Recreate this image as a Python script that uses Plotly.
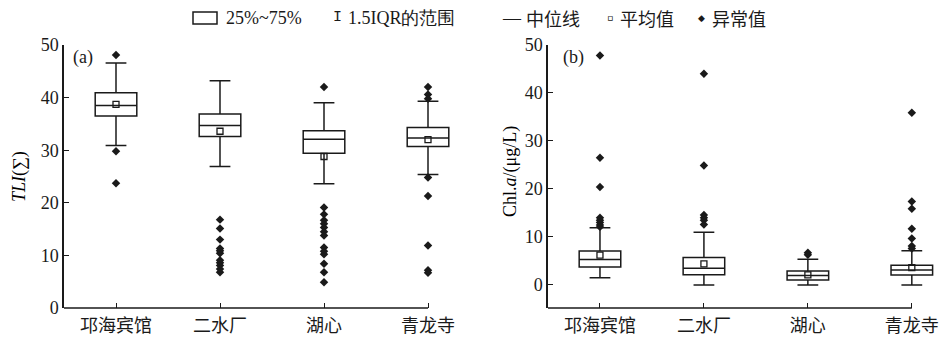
import plotly.graph_objects as go

cats = ["邛海宾馆", "二水厂", "湖心", "青龙寺"]
yticks = [0, 10, 20, 30, 40, 50]

# Panel (a): TLI(∑)
tli_q1 = [36.5, 32.6, 29.4, 30.7]
tli_med = [38.5, 34.7, 32.1, 32.3]
tli_q3 = [40.9, 36.9, 33.7, 34.3]
tli_lo = [30.9, 26.9, 23.6, 25.4]
tli_hi = [46.6, 43.2, 39.0, 39.3]
tli_mean = [38.7, 33.6, 28.8, 32.0]
tli_out_qh = [48.1, 29.8, 23.7]
tli_out_es = [16.8, 15.1, 13.0, 11.3, 10.9, 10.4, 9.1, 8.6, 8.1, 7.4, 6.8]
tli_out_hx = [42.0, 19.1, 17.8, 16.7, 16.0, 15.3, 14.5, 13.8, 11.5, 10.8, 10.2, 8.4, 6.8, 4.9]
tli_out_ql = [42.0, 40.6, 39.8, 24.8, 21.3, 11.9, 7.2, 6.7]

# Panel (b): Chl.a
chl_q1 = [3.75, 2.15, 1.05, 2.1]
chl_med = [5.3, 3.5, 1.95, 3.1]
chl_q3 = [7.1, 5.7, 2.9, 4.1]
chl_lo = [1.5, 0.0, 0.0, 0.0]
chl_hi = [11.9, 11.0, 5.35, 7.15]
chl_mean = [6.2, 4.4, 2.1, 3.6]
chl_out_qh = [47.8, 26.5, 20.4, 14.0, 13.5, 13.0, 12.5, 12.1]
chl_out_es = [44.0, 24.9, 14.6, 14.0, 13.5, 12.6]
chl_out_hx = [6.7, 6.3]
chl_out_ql = [35.9, 17.4, 15.9, 11.7, 9.7, 8.1, 7.6]

W, H = 943, 342
SERIF = "Liberation Serif, Times New Roman, serif"
MONO = "Liberation Mono, DejaVu Sans Mono, monospace"
CJK = "Noto Sans CJK SC, sans-serif"
INK = "#1a1a1a"

fig = go.Figure()


def add_panel(xa, ya, q1, med, q3, lo, hi, mean, outs):
    for i, c in enumerate(cats):
        fig.add_trace(go.Box(
            x=[c], q1=[q1[i]], median=[med[i]], q3=[q3[i]],
            lowerfence=[lo[i]], upperfence=[hi[i]],
            boxpoints=False, width=0.4, whiskerwidth=0.5,
            fillcolor="white", line=dict(color=INK, width=1.5),
            xaxis=xa, yaxis=ya, showlegend=False, hoverinfo="skip"))
    for c, o in zip(cats, outs):
        fig.add_trace(go.Scatter(
            x=[c] * len(o), y=o, mode="markers",
            marker=dict(symbol="diamond", size=6.5, color=INK),
            xaxis=xa, yaxis=ya, showlegend=False, cliponaxis=False))
    fig.add_trace(go.Scatter(
        x=cats, y=mean, mode="markers",
        marker=dict(symbol="square-open", size=6, color=INK, line=dict(width=1.3)),
        xaxis=xa, yaxis=ya, showlegend=False))


add_panel("x", "y", tli_q1, tli_med, tli_q3, tli_lo, tli_hi, tli_mean,
          [tli_out_qh, tli_out_es, tli_out_hx, tli_out_ql])
add_panel("x2", "y2", chl_q1, chl_med, chl_q3, chl_lo, chl_hi, chl_mean,
          [chl_out_qh, chl_out_es, chl_out_hx, chl_out_ql])

ydom = [1 - 308 / H, 1 - 45 / H]
xcommon = dict(type="category", categoryorder="array", categoryarray=cats,
               range=[-0.5, 3.3], showline=False, showgrid=False, zeroline=False,
               automargin=False, ticklabelstandoff=5,
               ticks="inside", ticklen=5, tickwidth=1.3, tickcolor=INK,
               tickfont=dict(family=CJK, size=18, color=INK))
ycommon = dict(showline=True, linecolor=INK, linewidth=1.5, showgrid=False,
               zeroline=False, ticks="inside", ticklen=5, tickwidth=1.3,
               automargin=False,
               tickcolor=INK, tickvals=yticks,
               tickfont=dict(family=SERIF, size=18, color=INK))

fig.update_layout(
    width=W, height=H, margin=dict(l=0, r=0, t=0, b=0, autoexpand=False),
    paper_bgcolor="white", plot_bgcolor="white",
    xaxis=dict(domain=[64 / W, (64 + 3.8 * 104) / W], anchor="y", **xcommon),
    yaxis=dict(domain=ydom, range=[0, 50], anchor="x", **ycommon),
    xaxis2=dict(domain=[548 / W, 1.0], anchor="y2", **xcommon),
    yaxis2=dict(domain=ydom, range=[-4.8, 50], anchor="x2", **ycommon),
)

# x-axis lines ending at the last category
for xr, yr in (("x", "y domain"), ("x2", "y2 domain")):
    fig.add_shape(type="line", xref=xr, yref=yr, x0=-0.5, x1=3, y0=0, y1=0,
                  line=dict(color=INK, width=1.5))

# panel labels
fig.add_annotation(text="(a)", xref="paper", yref="paper", x=71 / W, y=1 - 58 / H,
                   xanchor="left", yanchor="middle", showarrow=False,
                   font=dict(family=SERIF, size=18, color=INK))
fig.add_annotation(text="(b)", xref="paper", yref="paper", x=561 / W, y=1 - 58 / H,
                   xanchor="left", yanchor="middle", showarrow=False,
                   font=dict(family=SERIF, size=18, color=INK))

# y-axis titles
fig.add_annotation(text="<i>TLI</i>(∑)", xref="paper", yref="paper", x=19 / W,
                   y=1 - 177 / H, textangle=-90, showarrow=False,
                   xanchor="center", yanchor="middle",
                   font=dict(family=SERIF, size=18, color="black"))
fig.add_annotation(text="Chl.<i>a</i>/(μg/L)", xref="paper", yref="paper",
                   x=510 / W, y=1 - 172 / H, textangle=-90, showarrow=False,
                   xanchor="center", yanchor="middle",
                   font=dict(family=SERIF, size=18, color="black"))

# legend (top)
ly = 1 - 18 / H
fig.add_shape(type="rect", xref="paper", yref="paper",
              x0=193 / W, x1=217 / W, y0=1 - 24 / H, y1=1 - 12 / H,
              line=dict(color=INK, width=1.5), fillcolor="white")
leg_items = [
    (224, "25%~75%", SERIF, 18),
    (331, "I", MONO, 15),
    (346, "1.5IQR的范围", SERIF, 18),
    (500, "—", SERIF, 18),
    (524, "中位线", CJK, 18),
    (605, "▫", SERIF, 18),
    (618, "平均值", CJK, 18),
    (696, "◆", SERIF, 9),
    (710, "异常值", CJK, 18),
]
for xp, txt, fam, fs in leg_items:
    fig.add_annotation(text=txt, xref="paper", yref="paper", x=xp / W, y=ly,
                       xanchor="left", yanchor="middle", showarrow=False,
                       font=dict(family=fam, size=fs, color=INK))

fig.write_html("out.html", config={"displayModeBar": False},
               post_script="document.body.style.margin='0';")
